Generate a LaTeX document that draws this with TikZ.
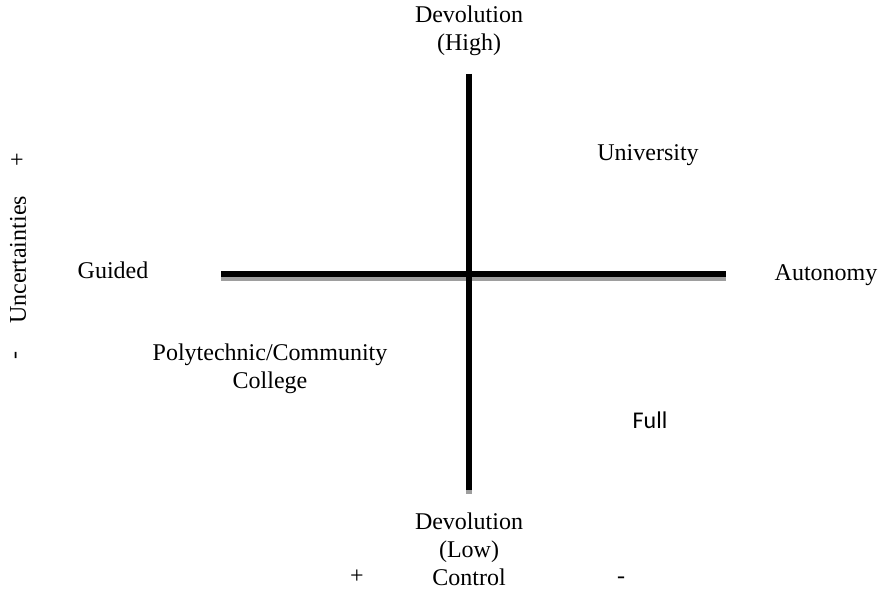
\documentclass[tikz,border=0pt]{standalone}
\usepackage{fontspec}
\setmainfont{Liberation Serif}
\newfontfamily\calibrifont{Carlito}
\usepackage{tikz}
\usetikzlibrary{positioning}
\tikzstyle{axis} = [line width=2.6pt, black]
\tikzstyle{shade} = [line width=2.6pt, black!38]
\tikzstyle{label} = [inner sep=0pt, align=center, font=\fontsize{12}{14}\selectfont]
\begin{document}
\begin{tikzpicture}[x=0.5pt, y=-0.5pt]
			\useasboundingbox (0,0) rectangle (881,588);
			%--Axis Ends--%
			\coordinate (top) at (469,74);
			\coordinate (bottom) at (469,490);
			\coordinate (left) at (221,274);
			\coordinate (right) at (726,274);

			%--Axes--%
			\draw[shade] ([yshift=-2.4pt]left) -- ([yshift=-2.4pt]right);
			\draw[shade] (top) -- ([yshift=-2pt]bottom);
			\draw[axis] (left) -- (right);
			\draw[axis] (top) -- (bottom);

			%--Axis Labels--%
			\node(high)[label] at (469,31) {Devolution\\(High)};
			\node(low)[label] at (469,549) {Devolution\\(Low)\\Control};
			\node(guided)[label] at (113,270) {Guided};
			\node(auto)[label] at (826,275) {Autonomy};
			\node(plus)[label, anchor=base] at (357,583) {+};
			\node(minus)[label, anchor=base] at (621,583) {-};

			%--Quadrant Labels--%
			\node(uni)[label] at (648,155) {University};
			\node(poly)[label] at (270,369) {Polytechnic/Community\\College};
			\node(full)[label, font=\calibrifont\fontsize{12}{14}\selectfont] at (650,420) {Full};

			%--Other Labels--%
			\node(unc)[label, rotate=90] at (18,260) {Uncertainties};
			\node(uplus)[label, rotate=90] at (18,160) {+};
			\node(uminus)[label, rotate=90] at (18,355) {-};
		\end{tikzpicture}
\end{document}
